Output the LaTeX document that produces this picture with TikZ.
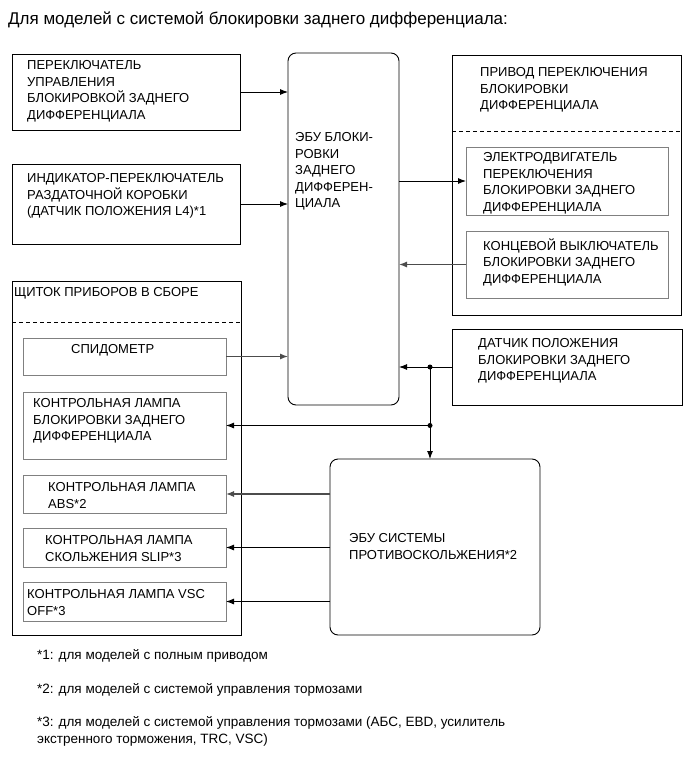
\documentclass[tikz,border=0pt]{standalone}
\usepackage{fontspec}
\setmainfont{Liberation Sans}
\usetikzlibrary{arrows.meta}

\tikzset{
  blk/.style={draw, line width=0.9pt, inner sep=0pt, outer sep=0pt},
  inbox/.style={draw=black!50, line width=0.9pt, inner sep=0pt, outer sep=0pt},
  ecu/.style={blk, rounded corners=8pt},
  txt/.style={anchor=north west, align=left, inner sep=0pt, font=\fontsize{13}{16.5}\selectfont},
  note/.style={inner sep=0pt, font=\fontsize{13.5}{17}\selectfont},
  sig/.style={-{Latex[length=8pt,width=6pt]}, line width=0.9pt},
  sigg/.style={sig, draw=black!70, line width=1.1pt},
  splitline/.style={line width=0.7pt, dash pattern=on 4pt off 3pt},
  jdot/.style={circle, fill, inner sep=0pt, minimum size=5pt},
}

\begin{document}
\begin{tikzpicture}[x=1pt, y=-1pt]
\useasboundingbox (0,0) rectangle (690,757);

\node[anchor=west, inner sep=0pt, font=\fontsize{17}{20}\selectfont] (title) at (8,20)
  {Для моделей с системой блокировки заднего дифференциала:};

% left column
\node[blk, minimum width=228, minimum height=76] (swA) at (126,92) {};
\node[txt] (swAt) at ([shift={(15,6.3)}]swA.north west)
  {ПЕРЕКЛЮЧАТЕЛЬ\\УПРАВЛЕНИЯ\\БЛОКИРОВКОЙ ЗАДНЕГО\\ДИФФЕРЕНЦИАЛА};
\node[blk, minimum width=228, minimum height=80] (swB) at (126,204) {};
\node[txt] (swBt) at ([shift={(15,9.3)}]swB.north west)
  {ИНДИКАТОР-ПЕРЕКЛЮЧАТЕЛЬ\\РАЗДАТОЧНОЙ КОРОБКИ\\(ДАТЧИК ПОЛОЖЕНИЯ L4)*1};

% instrument panel
\node[blk, minimum width=229, minimum height=354] (panel) at (126.5,458) {};
\node[txt] (panelt) at ([shift={(2,6.3)}]panel.north west) {ЩИТОК ПРИБОРОВ В СБОРЕ};
\draw[splitline] ([yshift=-41pt]panel.north west) -- ([yshift=-41pt]panel.north east);
\node[inbox, minimum width=203, minimum height=37] (speedo) at (124.5,356.5) {};
\node[txt] (speedot) at ([shift={(48,6.3)}]speedo.north west) {СПИДОМЕТР};
\node[inbox, minimum width=203, minimum height=67] (lampDL) at (124.5,425.5) {};
\node[txt] (lampDLt) at ([shift={(10,6.3)}]lampDL.north west)
  {КОНТРОЛЬНАЯ ЛАМПА\\БЛОКИРОВКИ ЗАДНЕГО\\ДИФФЕРЕНЦИАЛА};
\node[inbox, minimum width=203, minimum height=38] (lampABS) at (124.5,494) {};
\node[txt] (lampABSt) at ([shift={(25,7.3)}]lampABS.north west) {КОНТРОЛЬНАЯ ЛАМПА\\ABS*2};
\node[inbox, minimum width=203, minimum height=39] (lampSLIP) at (124.5,547.5) {};
\node[txt] (lampSLIPt) at ([shift={(22,7.3)}]lampSLIP.north west) {КОНТРОЛЬНАЯ ЛАМПА\\СКОЛЬЖЕНИЯ SLIP*3};
\node[inbox, minimum width=203, minimum height=39] (lampVSC) at (124.5,601.5) {};
\node[txt] (lampVSCt) at ([shift={(4,7.3)}]lampVSC.north west) {КОНТРОЛЬНАЯ ЛАМПА VSC\\OFF*3};

% control units
\node[ecu, minimum width=111, minimum height=352] (ecuDL) at (343.5,229) {};
\node[txt] (ecuDLt) at ([shift={(7,79.3)}]ecuDL.north west)
  {ЭБУ БЛОКИ-\\РОВКИ\\ЗАДНЕГО\\ДИФФЕРЕН-\\ЦИАЛА};
\node[ecu, minimum width=210, minimum height=176] (ecuABS) at (435,547) {};
\node[txt] (ecuABSt) at ([shift={(19,74.3)}]ecuABS.north west)
  {ЭБУ СИСТЕМЫ\\ПРОТИВОСКОЛЬЖЕНИЯ*2};

% actuator
\node[blk, minimum width=229, minimum height=260] (act) at (566.5,185) {};
\node[txt] (actt) at ([shift={(28,12.3)}]act.north west)
  {ПРИВОД ПЕРЕКЛЮЧЕНИЯ\\БЛОКИРОВКИ\\ДИФФЕРЕНЦИАЛА};
\draw[splitline] ([yshift=-76pt]act.north west) -- ([yshift=-76pt]act.north east);
\node[inbox, minimum width=202, minimum height=68] (motor) at (567,181) {};
\node[txt] (motort) at ([shift={(17,5.3)}]motor.north west)
  {ЭЛЕКТРОДВИГАТЕЛЬ\\ПЕРЕКЛЮЧЕНИЯ\\БЛОКИРОВКИ ЗАДНЕГО\\ДИФФЕРЕНЦИАЛА};
\node[inbox, minimum width=202, minimum height=67] (limsw) at (567,264.5) {};
\node[txt] (limswt) at ([shift={(17,7.3)}]limsw.north west)
  {КОНЦЕВОЙ ВЫКЛЮЧАТЕЛЬ\\БЛОКИРОВКИ ЗАДНЕГО\\ДИФФЕРЕНЦИАЛА};

\node[blk, minimum width=230, minimum height=76] (sensor) at (567,367) {};
\node[txt] (sensort) at ([shift={(26,9.3)}]sensor.north west)
  {ДАТЧИК ПОЛОЖЕНИЯ\\БЛОКИРОВКИ ЗАДНЕГО\\ДИФФЕРЕНЦИАЛА};

% signals
\draw[sig] (swA.east) -- (swA.east -| ecuDL.west);
\draw[sig] (swB.east) -- (swB.east -| ecuDL.west);
\draw[sigg] (speedo.east) -- (speedo.east -| ecuDL.west);
\draw[sig] (motor.west -| ecuDL.east) -- (motor.west);
\draw[sigg] (limsw.west) -- (limsw.west -| ecuDL.east);

\path (sensor.west) -- ++(-22,0) coordinate (j1);
\coordinate (j2) at (j1 |- lampDL.east);
\draw[line width=0.9pt] (sensor.west) -- (j1);
\draw[sig] (j1) -- (j1 -| ecuDL.east);
\draw[sig] (j1) -- (j1 |- ecuABS.north);
\draw[sig] (j2) -- (j2 -| lampDL.east);
\node[jdot] (d1) at (j1) {};
\node[jdot] (d2) at (j2) {};

\draw[sigg] (ecuABS.west |- lampABS.east) -- (lampABS.east);
\draw[sig] (ecuABS.west |- lampSLIP.east) -- (lampSLIP.east);
\draw[sig] (ecuABS.west |- lampVSC.east) -- (lampVSC.east);

% notes
\node[note, anchor=west] (fn1) at (37,656) {*1: для моделей с полным приводом};
\node[note, anchor=west] (fn2) at (37,690) {*2: для моделей с системой управления тормозами};
\node[note, anchor=north west, align=left] (fn3) at (37,716)
  {*3: для моделей с системой управления тормозами (АБС, EBD, усилитель\\экстренного торможения, TRC, VSC)};
\end{tikzpicture}
\end{document}
